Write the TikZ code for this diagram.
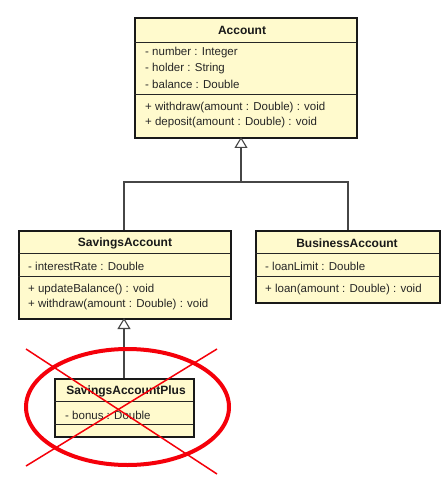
\documentclass[tikz,border=0pt]{standalone}
\usepackage{fontspec}
\setmainfont{Liberation Sans}
\usetikzlibrary{arrows.meta}
\definecolor{classfill}{RGB}{255,250,205}
\definecolor{crossred}{RGB}{245,0,10}
\definecolor{conn}{RGB}{70,70,70}
\tikzset{
  classbox/.style={draw=black!90, line width=2pt, fill=classfill, inner sep=0pt, anchor=north west},
  sepline/.style={draw=black!85, line width=0.9pt},
  member/.style={anchor=west, inner sep=0pt, text=black!85, font=\fontsize{11.5}{13}\selectfont},
  title/.style={anchor=center, inner sep=0pt, text=black!90, font=\fontsize{12}{14}\selectfont\bfseries},
  conline/.style={draw=conn, line width=1.1pt},
  gen/.style={conline, -{Triangle[open, length=11pt, width=13pt, line width=1.1pt]}},
  redmark/.style={draw=crossred}
}
\begin{document}
\begin{tikzpicture}[x=1pt, y=-1pt]
\useasboundingbox (0,0) rectangle (447,489);
\fill[white] (0,0) rectangle (447,489);

% Account
\node[classbox, minimum width=222pt, minimum height=120pt] (acc) at (134,17) {};
\draw[sepline] (134,42) -- (356,42);
\draw[sepline] (134,94) -- (356,94);
\node[title] (acct) at (242,30) {Account};
\node[member] (acc1) at (145,53) {- number : Integer};
\node[member] (acc2) at (145,69) {- holder : String};
\node[member] (acc3) at (145,84) {- balance : Double};
\node[member] (acc4) at (145,108) {+ withdraw(amount : Double) : void};
\node[member] (acc5) at (145,123) {+ deposit(amount : Double) : void};

% SavingsAccount
\node[classbox, minimum width=212pt, minimum height=88pt] (sav) at (18,230) {};
\draw[sepline] (18,253) -- (230,253);
\draw[sepline] (18,276) -- (230,276);
\node[title] (savt) at (125,243) {SavingsAccount};
\node[member] (sav1) at (28,266) {- interestRate : Double};
\node[member] (sav2) at (28,290) {+ updateBalance() : void};
\node[member] (sav3) at (28,305) {+ withdraw(amount : Double) : void};

% BusinessAccount
\node[classbox, minimum width=184pt, minimum height=72pt] (bus) at (255,230) {};
\draw[sepline] (255,253) -- (439,253);
\draw[sepline] (255,276) -- (439,276);
\node[title] (bust) at (347,243) {BusinessAccount};
\node[member] (bus1) at (265,266) {- loanLimit : Double};
\node[member] (bus2) at (265,290) {+ loan(amount : Double) : void};

% SavingsAccountPlus
\node[classbox, minimum width=139pt, minimum height=58pt] (plus) at (54,378) {};
\draw[sepline] (54,401) -- (193,401);
\draw[sepline] (54,424) -- (193,424);
\node[title] (plust) at (126,391) {SavingsAccountPlus};
\node[member] (plus1) at (65,415) {- bonus : Double};

% generalization connectors
\coordinate (j) at (241,182);
\coordinate (acctip) at (241,137);
\draw[conline] (sav.north -| 124,0) -- (124,182) -- (348,182) -- (348,230);
\draw[gen] (j) -- (acctip);
\coordinate (savtip) at (124,318);
\draw[gen] (plus.north -| 124,0) -- (savtip);

% red cross-out
\draw[redmark, line width=1.5pt] (26,349) -- (217,474);
\draw[redmark, line width=1.5pt] (26,466) -- (217,349);
\draw[redmark, line width=4pt] (127.5,407) ellipse [x radius=101.5, y radius=58];
\end{tikzpicture}
\end{document}
